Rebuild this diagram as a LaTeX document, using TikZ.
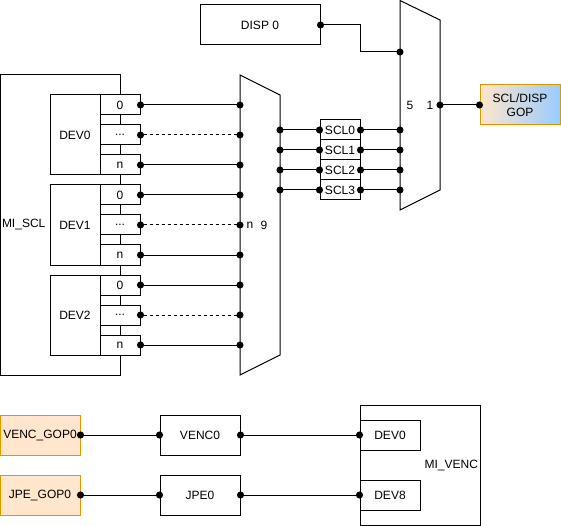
\documentclass[tikz,border=0pt]{standalone}
\usepackage{fontspec}
\setmainfont{Liberation Sans}
\usetikzlibrary{positioning,arrows.meta,calc}
\definecolor{myorange}{RGB}{255,230,204}
\definecolor{myborder}{RGB}{215,155,0}
\definecolor{myblue}{RGB}{153,204,255}
\newcommand{\portdots}{...}

\begin{document}
\begin{tikzpicture}[x=1pt,y=-1pt,line width=1pt,
  every node/.style={font=\fontsize{12}{14}\selectfont},
  box/.style={draw,fill=white,inner sep=0pt},
  devbox/.style={box,minimum width=50pt,minimum height=80pt},
  portbox/.style={box,minimum width=40pt,minimum height=20pt},
  sclbox/.style={box,minimum width=40pt,minimum height=20pt},
  unitbox/.style={box,minimum width=80pt,minimum height=40pt},
  gopbox/.style={unitbox,fill=myorange,draw=myborder},
  link/.style={{Circle[length=7pt]}-{Circle[length=7pt]},shorten <=-3.5pt,shorten >=-3.5pt},
  dashlink/.style={link,dash pattern=on 3pt off 3pt}
]
\useasboundingbox (0,0) rectangle (561,526);

% the block MI_SCL
\node[draw,inner sep=0pt,minimum width=120pt,minimum height=300pt,
  label={[anchor=west,inner sep=2pt]west:MI\_SCL}] (miscl) at (60,225) {};

% the devices and their ports
\foreach \d/\y in {0/95,1/185,2/275} {
  \node[devbox] (dev\d) at (75,\y+40) {DEV\d};
  \foreach \p/\t/\o in {0/0/0,1/\portdots/30,2/n/60} {
    \node[portbox] (port\d\p) at (120,\y+\o+10) {\t};
    \coordinate (in\d\p) at (240,\y+\o+10);
  }
}

% the first mux
\draw (240,75) -- (280,95) -- (280,355) -- (240,375) -- cycle;
\node (muxn) at (250,225) {n};
\node (muxnine) at (264,225) {9};

% the ports to the first mux
\foreach \d in {0,1,2} {
  \draw[link] (port\d0.east) -- (in\d0);
  \draw[dashlink] (port\d1.east) -- (in\d1);
  \draw[link] (port\d2.east) -- (in\d2);
}

% the SCL channels
\foreach \k in {0,1,2,3} {
  \coordinate (out\k) at (280,130+20*\k);
  \node[sclbox] (scl\k) at (340,130+20*\k) {SCL\k};
  \coordinate (sel\k) at (400,130+20*\k);
  \draw[link] (out\k) -- (scl\k.west);
  \draw[link] (scl\k.east) -- (sel\k);
}

% the second mux
\draw (400,0.5) -- (440,20) -- (440,190) -- (400,210) -- cycle;
\node (muxfive) at (410,105) {5};
\node (muxone) at (430,105) {1};
\coordinate (seldisp) at (400,52);
\coordinate (selout) at (440,105);

% the display input
\node[unitbox] (disp) at (260,25) [minimum width=120pt] {DISP 0};
\draw[link] (disp.east) -- ++(40,0) |- (seldisp);

% the output
\node[unitbox,draw=myborder,left color=myorange,right color=myblue,align=center]
  (sclgop) at (520,105) {SCL/DISP\\GOP};
\draw[link] (selout) -- (sclgop.west);

% the block MI_VENC
\node[draw,inner sep=0pt,minimum width=120pt,minimum height=120pt,
  label={[anchor=east,inner sep=2pt]east:MI\_VENC}] (mivenc) at (420,465) {};
\node[box,minimum width=60pt,minimum height=30pt] (vdev0) at (390,435) {DEV0};
\node[box,minimum width=60pt,minimum height=30pt] (vdev8) at (390,495) {DEV8};

% the encoders
\node[gopbox] (vencgop) at (40,435) {VENC\_GOP0};
\node[gopbox] (jpegop) at (40,495) {JPE\_GOP0};
\node[unitbox] (venc) at (200,435) {VENC0};
\node[unitbox] (jpe) at (200,495) {JPE0};

% the edges
\draw[link] (vencgop.east) -- (venc.west);
\draw[link] (venc.east) -- (vdev0.west);
\draw[link] (jpegop.east) -- (jpe.west);
\draw[link] (jpe.east) -- (vdev8.west);
\end{tikzpicture}
\end{document}
